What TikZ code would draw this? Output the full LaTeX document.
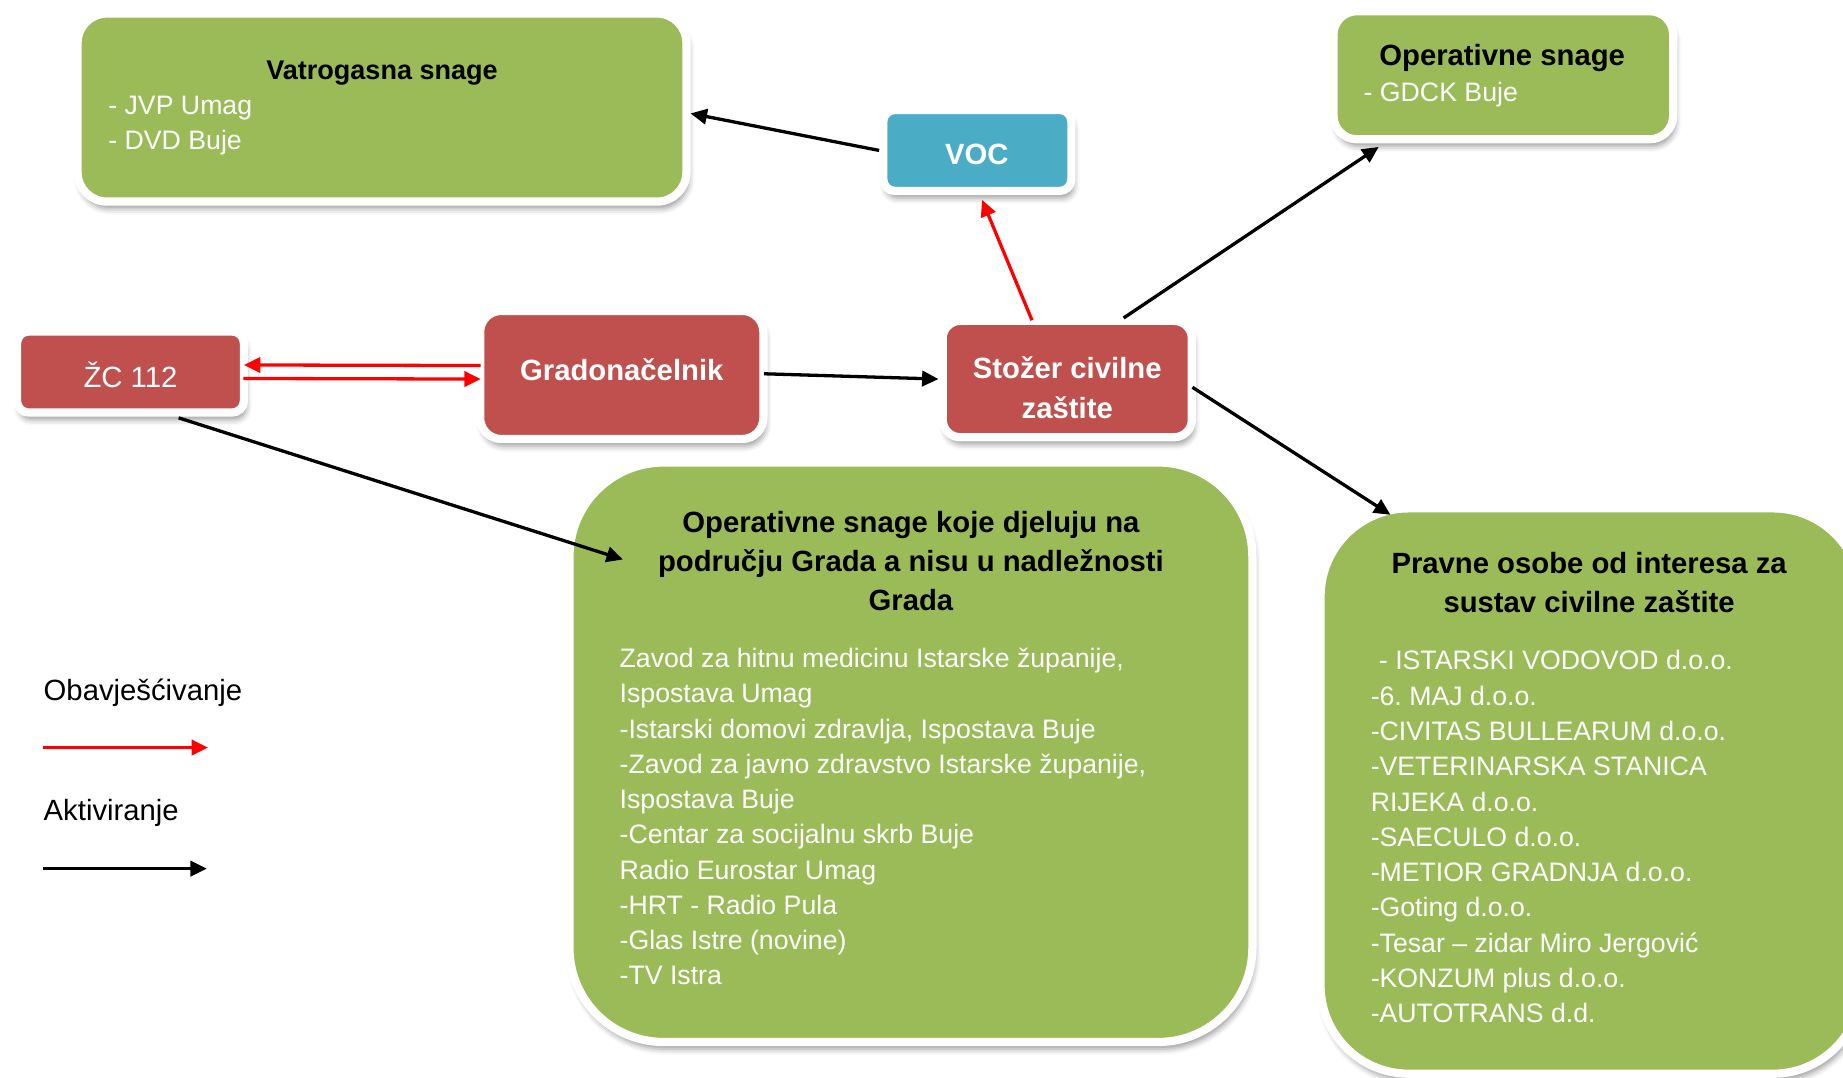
\documentclass[tikz,border=0pt]{standalone}
\usepackage{fontspec}
\setmainfont{Liberation Sans}
\usetikzlibrary{arrows.meta,calc,shadows.blur}
\definecolor{boxgreen}{HTML}{9BBB59}
\definecolor{boxred}{HTML}{C0504D}
\definecolor{boxblue}{HTML}{4BACC6}
\definecolor{arrred}{HTML}{FF0000}
\frenchspacing
\begin{document}
\begin{tikzpicture}[x=1pt,y=-1pt,
  box/.style={draw=white, line width=7pt, inner sep=0pt,
    blur shadow={shadow xshift=2pt, shadow yshift=-6pt, shadow blur radius=5pt, shadow opacity=40}},
  gbox/.style={box, fill=boxgreen},
  rbox/.style={box, fill=boxred},
  bbox/.style={box, fill=boxblue},
  bodytxt/.style={inner sep=0pt, font=\fontsize{22.7}{30}\selectfont, align=left, anchor=base west},
  wbody/.style={bodytxt, text=white},
  ttl/.style={inner sep=0pt, font=\fontsize{24.9}{33}\selectfont\bfseries, align=center, anchor=base},
  wttl/.style={ttl, text=white},
  arr/.style={line width=2.8pt, -{Triangle[length=14pt,width=13pt]}},
  blackarr/.style={arr, draw=black},
  redarr/.style={arr, draw=arrred, fill=arrred},
]
\useasboundingbox (0,0) rectangle (1568,917);

% boxes
\node[gbox, minimum width=518pt, minimum height=160pt, rounded corners=25pt] (vat) at (325,91.5) {};
\node[bbox, minimum width=160pt, minimum height=69pt, rounded corners=10pt] (voc) at (831.5,128) {};
\node[gbox, minimum width=289pt, minimum height=109pt, rounded corners=20pt] (ops) at (1279,64) {};
\node[rbox, minimum width=193pt, minimum height=69pt, rounded corners=10pt] (zc) at (111,316.5) {};
\node[rbox, minimum width=241pt, minimum height=109pt, rounded corners=18pt] (grad) at (529,319) {};
\node[rbox, minimum width=212pt, minimum height=99pt, rounded corners=15pt] (stoz) at (908,322.5) {};
\node[gbox, minimum width=581pt, minimum height=493pt, rounded corners=80pt] (big) at (775,640) {};
\node[gbox, minimum width=460pt, minimum height=481pt, rounded corners=75pt] (prav) at (1353.5,673) {};

% texts (base anchor of a multi-line node = baseline of its last line)
\node[ttl, font=\fontsize{23}{30}\selectfont\bfseries] (vatT) at (325,68) {Vatrogasna snage};
\node[wbody] (vatB) at (92,127) {- JVP Umag\\- DVD Buje};
\node[wttl] (vocT) at (831,140) {VOC};
\node[ttl] (opsT) at (1278,56) {Operativne snage};
\node[wbody] (opsB) at (1160,86) {- GDCK Buje};
\node[wttl, font=\fontsize{24.9}{33}\selectfont] (zcT) at (111,330) {ŽC 112};
\node[wttl] (gradT) at (529,324) {Gradonačelnik};
\node[wttl, font=\fontsize{24.9}{34}\selectfont\bfseries] (stozT) at (908,356) {Stožer civilne\\zaštite};
\node[ttl] (bigT) at (775,519) {Operativne snage koje djeluju na\\području Grada a nisu u nadležnosti\\Grada};
\node[wbody] (bigB) at (527,838) {Zavod za hitnu medicinu Istarske županije,\\Ispostava Umag\\-Istarski domovi zdravlja, Ispostava Buje\\-Zavod za javno zdravstvo Istarske županije,\\Ispostava Buje\\-Centar za socijalnu skrb Buje\\Radio Eurostar Umag\\-HRT - Radio Pula\\-Glas Istre (novine)\\-TV Istra};
\node[ttl] (pravT) at (1352,521) {Pravne osobe od interesa za\\sustav civilne zaštite};
\node[wbody] (pravB) at (1166,870) {\hspace*{7pt}- ISTARSKI VODOVOD d.o.o.\\-6. MAJ d.o.o.\\-CIVITAS BULLEARUM d.o.o.\\-VETERINARSKA STANICA\\RIJEKA d.o.o.\\-SAECULO d.o.o.\\-METIOR GRADNJA d.o.o.\\-Goting d.o.o.\\-Tesar – zidar Miro Jergović\\-KONZUM plus d.o.o.\\-AUTOTRANS d.d.};

% legend
\node[bodytxt, font=\fontsize{24.9}{30}\selectfont] (leg1) at (37,596) {Obavješćivanje};
\node[bodytxt, font=\fontsize{24.9}{30}\selectfont] (leg2) at (37,698) {Aktiviranje};
\coordinate (l1a) at (37,636);
\coordinate (l1b) at (177,636);
\coordinate (l2a) at (37,739);
\coordinate (l2b) at (176,739);
\draw[redarr] (l1a) -- (l1b);
\draw[blackarr] (l2a) -- (l2b);

% connectors
\draw[blackarr] (voc.west) -- ($(vat.east)+(0,5)$);
\draw[redarr] ($(stoz.north)+(-30,3)$) -- ($(voc.south)+(4,4)$);
\draw[blackarr] ($(stoz.north)+(48,1)$) -- ($(ops.south west)+(42,3)$);
\draw[blackarr] ($(grad.east)+(-3,-1)$) -- (stoz.west);
\draw[blackarr] ($(stoz.east)+(-3,7)$) -- ($(prav.north west)+(63,9)$);
\draw[blackarr] ($(zc.south)+(41,1)$) -- ($(big.north west)+(49,86)$);
\draw[redarr] ($(grad.west)+(4,-8)$) -- ($(zc.east)+(-3.5,-6)$);
\draw[redarr] ($(zc.east)+(-4,5.5)$) -- ($(grad.west)+(4,3.5)$);
\end{tikzpicture}
\end{document}
